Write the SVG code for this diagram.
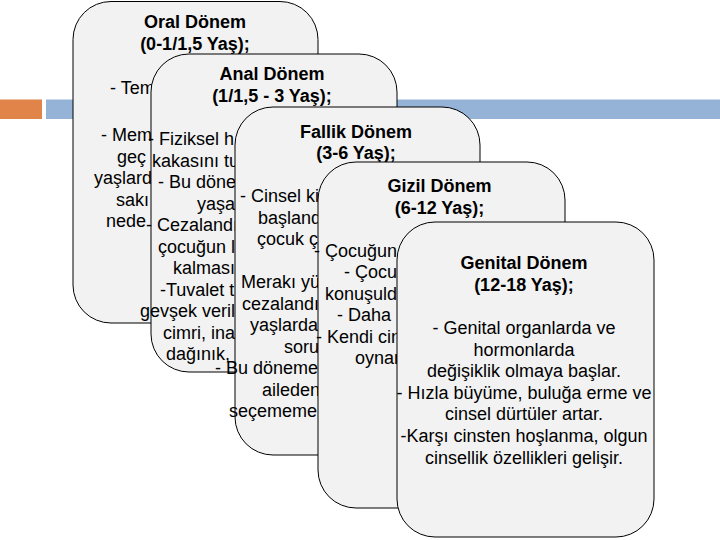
<svg xmlns="http://www.w3.org/2000/svg" width="720" height="540" viewBox="0 0 720 540">
<style>
  .card{fill:#f2f2f2;stroke:#000;stroke-width:1}
  text{font-family:"Liberation Sans",Arial,sans-serif;font-size:18px;fill:#000}
  .t{font-weight:bold;text-anchor:middle}
  .c{text-anchor:middle}
</style>
<rect width="720" height="540" fill="#fff"/>
<g id="background-bars">
  <rect x="0" y="99.5" width="42" height="19.5" fill="#E0844A"/>
  <rect x="46" y="99.5" width="674" height="19.5" fill="#95B3D7"/>
</g>
<g id="connectors"></g>
<g id="oral">
  <rect class="card" x="73" y="1.5" width="245" height="321.5" rx="38"/>
  <text class="t" x="195" y="28">Oral Dönem</text>
  <text class="t" x="195" y="50">(0-1/1,5 Yaş);</text>
  <text x="110" y="94">- Tem</text>
  <text x="101" y="141">- Mem</text>
  <text x="117" y="162.5">geç</text>
  <text x="94" y="184">yaşlard</text>
  <text x="116" y="205.5">sakı</text>
  <text x="106" y="227">nede</text>
</g>
<g id="anal">
  <rect class="card" x="151" y="54" width="246" height="318" rx="38"/>
  <text class="t" x="272" y="80">Anal Dönem</text>
  <text class="t" x="272" y="102">(1/1,5 - 3 Yaş);</text>
  <text x="148" y="145">- Fiziksel h</text>
  <text x="152" y="166.5">kakasını tu</text>
  <text x="158" y="188">- Bu döne</text>
  <text x="197" y="209.5">yaşa</text>
  <text x="146" y="231">- Cezalandı</text>
  <text x="158" y="252.5">çocuğun l</text>
  <text x="173" y="274">kalması</text>
  <text x="160" y="295.5">-Tuvalet t</text>
  <text x="140" y="317">gevşek veril</text>
  <text x="163" y="338.5">cimri, ina</text>
  <text x="166" y="360">dağınık,</text>
</g>
<g id="fallik">
  <rect class="card" x="235" y="107" width="245" height="348" rx="38"/>
  <text class="t" x="356" y="137.5">Fallik Dönem</text>
  <text class="t" x="356" y="159">(3-6 Yaş);</text>
  <text x="240" y="202">- Cinsel ki</text>
  <text x="258" y="223.5">başland</text>
  <text x="257" y="245">çocuk ç</text>
  <text x="241" y="288">Merakı yü</text>
  <text x="242" y="309.5">cezalandı</text>
  <text x="250" y="331">yaşlarda</text>
  <text x="284" y="352.5">soru</text>
  <text x="215" y="374">- Bu döneme</text>
  <text x="262" y="395.5">aileden</text>
  <text x="229" y="417">seçememe</text>
</g>
<g id="gizil">
  <rect class="card" x="318" y="162" width="247" height="346" rx="38"/>
  <text class="t" x="439.5" y="192">Gizil Dönem</text>
  <text class="t" x="439.5" y="214">(6-12 Yaş);</text>
  <text x="314" y="256.5">- Çocuğun</text>
  <text x="344" y="278">- Çocu</text>
  <text x="325" y="299.5">konuşuld</text>
  <text x="337" y="321">- Daha</text>
  <text x="316" y="342.5">- Kendi cin</text>
  <text x="355" y="364">oynar</text>
</g>
<g id="genital">
  <rect class="card" x="397" y="222" width="257" height="315" rx="38"/>
  <text class="t" x="524" y="269">Genital Dönem</text>
  <text class="t" x="524" y="291">(12-18 Yaş);</text>
  <text class="c" x="524" y="334">- Genital organlarda ve</text>
  <text class="c" x="524" y="355.6">hormonlarda</text>
  <text class="c" x="524" y="377.2">değişiklik olmaya başlar.</text>
  <text class="c" x="524" y="398.8">- Hızla büyüme, buluğa erme ve</text>
  <text class="c" x="524" y="420.4">cinsel dürtüler artar.</text>
  <text class="c" x="524" y="442">-Karşı cinsten hoşlanma, olgun</text>
  <text class="c" x="524" y="463.6">cinsellik özellikleri gelişir.</text>
</g>
</svg>
